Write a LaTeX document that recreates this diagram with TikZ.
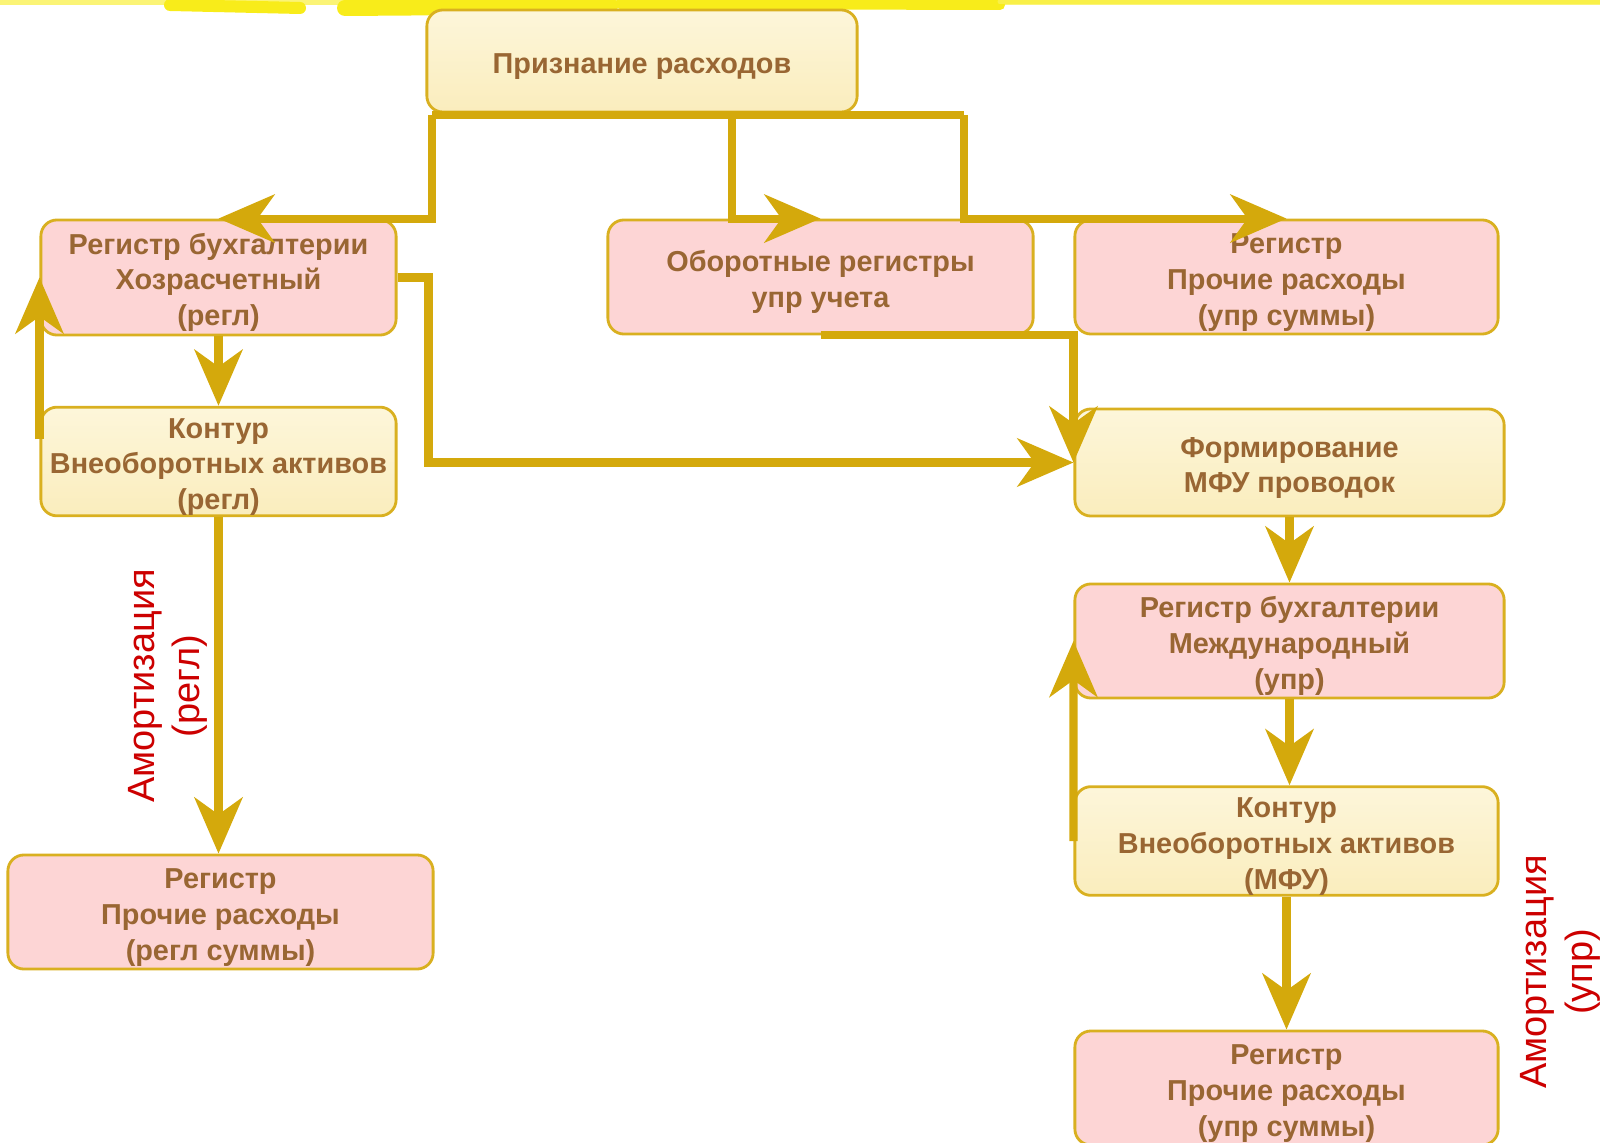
\documentclass[tikz,border=0pt]{standalone}
\usepackage{fontspec}
\setmainfont{Liberation Sans}
\usetikzlibrary{positioning, arrows.meta, calc}
\definecolor{gold}{HTML}{D4A90C}
\definecolor{boxline}{HTML}{D9B020}
\definecolor{pinkfill}{HTML}{FDD5D5}
\definecolor{creamtop}{HTML}{FDF6DA}
\definecolor{creambot}{HTML}{FAEDBD}
\definecolor{txtbrown}{HTML}{996633}
\definecolor{amred}{HTML}{CC0000}
\definecolor{brush}{HTML}{F8EC1A}
% a little room above the first line of a box
\newcommand{\topgap}{\rule{0pt}{8.8pt}}

\begin{document}
\begin{tikzpicture}[x=0.01cm, y=-0.01cm,
  box/.style={draw=boxline, line width=0.8pt, rounded corners=0.16cm, align=center, text=txtbrown,
    font=\bfseries\fontsize{8.2}{10.2}\selectfont, inner sep=0pt},
  regbox/.style={box, fill=pinkfill},
  contbox/.style={box, top color=creamtop, bottom color=creambot},
  flow/.style={draw=gold, line width=2.3pt, -{Stealth[length=0.56cm, width=0.48cm, inset=0.17cm]}},
  amort/.style={text=amred, rotate=90, align=center, font=\fontsize{10.8}{13}\selectfont}]
  \useasboundingbox (0,0) rectangle (1600,1143);

  % brush strip on top
  \fill[brush!60] (0,0) rectangle (1600,5);
  \draw[brush, line width=0.12cm, line cap=round] (170,5) -- (300,8);
  \draw[brush, line width=0.16cm, line cap=round] (345,8) -- (610,6);
  \draw[brush, line width=0.1cm, line cap=round] (620,4) -- (1000,5);
  \draw[brush!80, line width=0.05cm, line cap=round] (1000,2) -- (1600,2);

  % boxes
  \node[contbox, minimum width=4.3cm, minimum height=1.02cm] (prizn) at (642,61) {\topgap Признание расходов};
  \node[regbox, minimum width=3.55cm, minimum height=1.15cm] (regHoz) at (218.5,277.5) {\topgap Регистр бухгалтерии\\Хозрасчетный\\(регл)};
  \node[contbox, minimum width=3.55cm, minimum height=1.07cm] (kontReg) at (218.5,461.5) {\topgap Контур\\Внеоборотных активов\\(регл)};
  \node[regbox, minimum width=4.25cm, minimum height=1.14cm] (prochReg) at (220.5,912) {\topgap Регистр\\Прочие расходы\\(регл суммы)};
  \node[regbox, minimum width=4.25cm, minimum height=1.14cm] (oborot) at (820.5,277) {\topgap Оборотные регистры\\упр учета};
  \node[regbox, minimum width=4.23cm, minimum height=1.14cm] (prochUpr) at (1286.5,277) {\topgap Регистр\\Прочие расходы\\(упр суммы)};
  \node[contbox, minimum width=4.29cm, minimum height=1.07cm] (form) at (1289.5,462.5) {\topgap Формирование\\МФУ проводок};
  \node[regbox, minimum width=4.29cm, minimum height=1.14cm] (regMfu) at (1289.5,641) {\topgap Регистр бухгалтерии\\Международный\\(упр)};
  \node[contbox, minimum width=4.23cm, minimum height=1.06cm] (kontMfu) at (1286.5,841) {\topgap Контур\\Внеоборотных активов\\(МФУ)};
  \node[regbox, minimum width=4.23cm, minimum height=1.14cm] (prochUpr2) at (1286.5,1088) {\topgap Регистр\\Прочие расходы\\(упр суммы)};

  % side labels
  \node[amort] (amReg) at (168,686) {Амортизация\\(регл)};
  \node[amort] (amUpr) at (1560,972) {Амортизация\\(упр)};

  % bus from the top box
  \coordinate (busL) at (432,115);
  \coordinate (busM) at (732,115);
  \coordinate (busR) at (964,115);
  \draw[gold, line width=2.3pt] (busL) -- (busR);
  \draw[flow] (busL) |- (regHoz.north);
  \draw[flow] (busM) |- (oborot.north);
  \draw[flow] (busR) |- (prochUpr.north);

  % connectors
  \draw[flow] (regHoz.east) -- ++(31,0) |- (form.west);
  \draw[flow] (oborot.south) -| (form.west);
  \draw[flow] (regHoz.south) -- (kontReg.north);
  \draw[flow] ([yshift=0.22cm]kontReg.west) -- (regHoz.west);
  \draw[flow] (kontReg.south) -- (kontReg.south |- prochReg.north);
  \draw[flow] (form.south) -- (regMfu.north);
  \draw[flow] (regMfu.south) -- (regMfu.south |- kontMfu.north);
  \draw[flow] (kontMfu.west) -- (regMfu.west);
  \draw[flow] (kontMfu.south) -- (prochUpr2.north);
\end{tikzpicture}
\end{document}
